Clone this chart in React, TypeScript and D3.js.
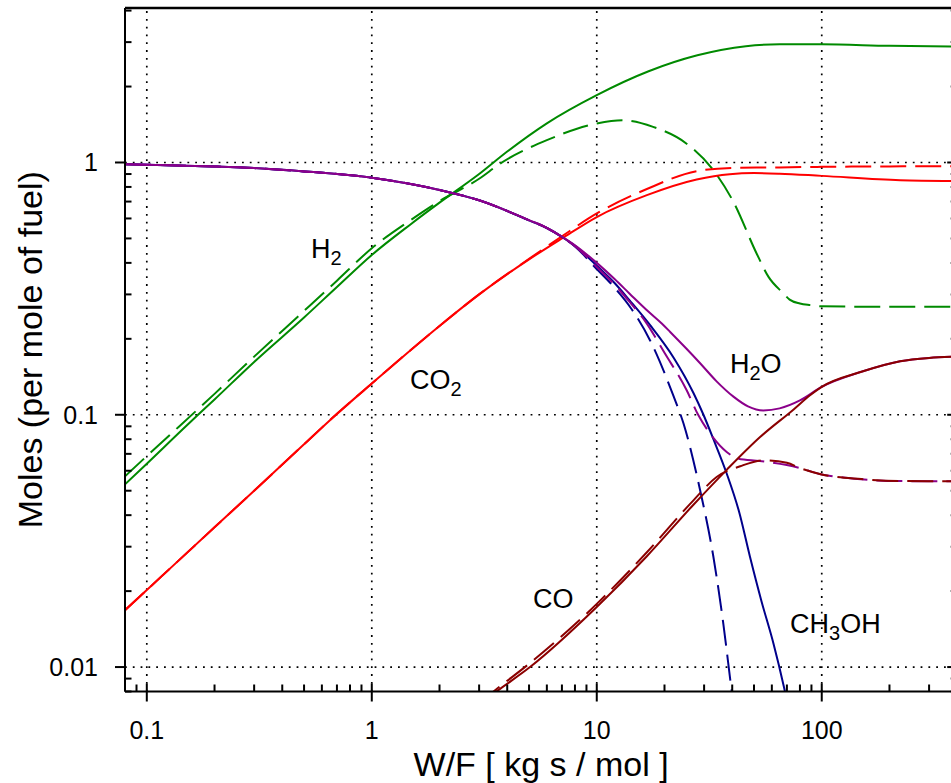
import React from 'react';
import * as d3 from 'd3';

type Pt = [number, number];

// ---- data (W/F in kg s / mol, moles per mole of fuel) ----
const h2Solid: Pt[] = [
  [0.08, 0.053], [0.1, 0.064], [0.15, 0.0905], [0.2, 0.115], [0.3, 0.162], [0.5, 0.243],
  [0.7, 0.321], [1, 0.43], [1.5, 0.572], [2, 0.693], [3, 0.9], [4, 1.105], [6, 1.43],
  [10, 1.85], [17, 2.3], [28, 2.66], [46, 2.89], [65, 2.94], [100, 2.94], [200, 2.9], [400, 2.88],
];
const h2Dashed: Pt[] = [
  [0.08, 0.057], [0.1, 0.0686], [0.2, 0.121], [0.3, 0.17], [0.5, 0.258], [0.7, 0.34],
  [1, 0.457], [1.5, 0.594], [2, 0.703], [3, 0.862], [3.72, 0.99], [6, 1.226], [10, 1.428],
  [13, 1.47], [17.8, 1.384], [25, 1.19], [33, 0.932], [40.5, 0.698], [51.4, 0.435],
  [58, 0.352], [67.5, 0.303], [72, 0.286], [80, 0.276], [89, 0.272], [100, 0.269],
  [200, 0.268], [400, 0.268],
];
const co2Solid: Pt[] = [
  [0.08, 0.0168], [0.1, 0.0202], [0.2, 0.0358], [0.3, 0.05], [0.5, 0.0764], [0.65, 0.095],
  [1, 0.133], [2, 0.225], [3, 0.3], [5, 0.413], [7, 0.5], [10, 0.608], [16.7, 0.742],
  [27.8, 0.856], [39, 0.899], [50, 0.908], [65, 0.903], [100, 0.885], [223, 0.851], [400, 0.845],
];
const co2Dashed: Pt[] = [
  [0.08, 0.0168], [0.1, 0.0202], [0.2, 0.0358], [0.3, 0.05], [0.5, 0.0764], [0.65, 0.095],
  [1, 0.133], [2, 0.225], [3, 0.3], [5, 0.415], [7, 0.51], [10, 0.628], [16.7, 0.785],
  [28, 0.925], [40.5, 0.952], [65, 0.956], [100, 0.961], [200, 0.965], [400, 0.967],
];
const ch3ohSolid: Pt[] = [
  [0.08, 0.984], [0.1, 0.98], [0.2, 0.964], [0.3, 0.95], [0.5, 0.922], [1, 0.87], [2, 0.778],
  [3, 0.708], [5, 0.59], [6, 0.55], [7, 0.507], [8, 0.467], [10, 0.39], [12, 0.333],
  [14, 0.284], [17.3, 0.226], [22, 0.168], [26.9, 0.122], [29.8, 0.1], [33, 0.08],
  [37.8, 0.0585], [43, 0.041], [48, 0.0273], [54, 0.0182], [61, 0.0124], [68, 0.0083], [75, 0.0055],
];
const ch3ohDashed: Pt[] = [
  [0.08, 0.984], [0.1, 0.98], [0.2, 0.964], [0.3, 0.95], [0.5, 0.922], [1, 0.87], [2, 0.778],
  [3, 0.708], [5, 0.59], [6, 0.55], [7, 0.507], [8, 0.465], [10, 0.378], [11.66, 0.328],
  [14.3, 0.262], [17.26, 0.197], [21.9, 0.119], [24.3, 0.0923], [28.8, 0.0502], [33, 0.0273],
  [36.5, 0.0149], [39.4, 0.0086], [42, 0.0055],
];
const h2oSolid: Pt[] = [
  [0.08, 0.984], [0.1, 0.98], [0.2, 0.964], [0.3, 0.95], [0.5, 0.922], [1, 0.87], [2, 0.778],
  [3, 0.708], [5, 0.591], [6, 0.551], [7, 0.508], [8, 0.47], [10, 0.4], [12, 0.345],
  [14, 0.302], [17, 0.256], [19.45, 0.23], [21.2, 0.213], [25, 0.183], [28.8, 0.16],
  [34, 0.136], [40.5, 0.118], [47, 0.108], [55, 0.104], [65, 0.106], [80, 0.114], [100, 0.129],
  [150, 0.148], [223, 0.163], [300, 0.168], [400, 0.17],
];
const h2oDashed: Pt[] = [
  [0.08, 0.984], [0.1, 0.98], [0.2, 0.964], [0.3, 0.95], [0.5, 0.922], [1, 0.87], [2, 0.778],
  [3, 0.708], [5, 0.59], [6, 0.55], [7, 0.507], [8, 0.466], [10, 0.385], [12, 0.328],
  [14, 0.28], [16.4, 0.235], [20, 0.176], [25.1, 0.125], [28.3, 0.0995], [31.9, 0.0842],
  [37.8, 0.0712], [42.6, 0.067], [53, 0.0656], [80, 0.0615], [100, 0.058], [223, 0.0546],
  [400, 0.0545],
];
const coSolid: Pt[] = [
  [3, 0.0071], [3.65, 0.0081], [5.05, 0.01], [10, 0.0173], [16.7, 0.0275], [26.9, 0.044],
  [37.8, 0.0605], [53.2, 0.0816], [75, 0.105], [88.7, 0.1195], [100, 0.129], [150, 0.148],
  [223, 0.163], [300, 0.168], [400, 0.17],
];
const coDashed: Pt[] = [
  [3, 0.0072], [3.6, 0.0082], [5, 0.0103], [10, 0.0178], [16.7, 0.0285], [26.9, 0.0458],
  [34.1, 0.0567], [43.4, 0.0625], [55, 0.066], [70, 0.0645], [80, 0.0615], [100, 0.058],
  [150, 0.0556], [223, 0.0546], [400, 0.0545],
];

const xMajor = [0.1, 1, 10, 100];
const xTickLabels = ['0.1', '1', '10', '100'];
const yMajor = [0.01, 0.1, 1];
const yTickLabels = ['0.01', '0.1', '1'];
const xDomain: [number, number] = [0.08, 400];
const yDomain: [number, number] = [0.008, 4];

const curveLabels = [
  { main: 'H', sub: '2', after: '', at: [0.537, 0.419] as Pt },
  { main: 'CO', sub: '2', after: '', at: [1.48, 0.127] as Pt },
  { main: 'H', sub: '2', after: 'O', at: [39.1, 0.1466] as Pt },
  { main: 'CO', sub: '', after: '', at: [5.21, 0.01714] as Pt },
  { main: 'CH', sub: '3', after: 'OH', at: [72.3, 0.01365] as Pt },
];

const GREEN = '#008a00';
const RED = '#ff0000';
const BLUE = '#00008b';
const PURPLE = '#8b008b';
const DARKRED = '#8b0000';

const seriesList = [
  { data: h2Solid, color: GREEN, dashed: false },
  { data: h2Dashed, color: GREEN, dashed: true },
  { data: co2Solid, color: RED, dashed: false },
  { data: co2Dashed, color: RED, dashed: true },
  { data: ch3ohSolid, color: BLUE, dashed: false },
  { data: ch3ohDashed, color: BLUE, dashed: true },
  { data: h2oSolid, color: PURPLE, dashed: false },
  { data: h2oDashed, color: PURPLE, dashed: true },
  { data: coSolid, color: DARKRED, dashed: false },
  { data: coDashed, color: DARKRED, dashed: true },
];

const FONT = "'Liberation Sans', Arial, Helvetica, sans-serif";

export default function App() {
  const W = 951;
  const H = 783;
  const left = 125;
  const right = 957.2;
  const bottom = 691.5;
  const top = 10.6;
  const frameTop = 8;

  const x = d3.scaleLog().domain(xDomain).range([left, right]);
  const y = d3.scaleLog().domain(yDomain).range([bottom, top]);
  const line = d3
    .line<Pt>()
    .x((d) => x(d[0]))
    .y((d) => y(d[1]))
    .curve(d3.curveMonotoneX);

  const isMajor = (t: number, majors: number[]) => majors.some((m) => Math.abs(t - m) / m < 1e-6);
  const xMinor = x.ticks().filter((t) => !isMajor(t, xMajor));
  const yMinor = y.ticks().filter((t) => !isMajor(t, yMajor));

  return (
    <svg
      width={W}
      height={H}
      style={{ position: 'absolute', left: 0, top: 0, background: '#fff' }}
      fontFamily={FONT}
    >
      <defs>
        <clipPath id="plotClip">
          <rect x={left} y={frameTop} width={right - left} height={bottom - frameTop} />
        </clipPath>
      </defs>
      <rect x={0} y={0} width={W} height={H} fill="#fff" />

      {/* grid */}
      <g stroke="#000" strokeWidth={1.7} strokeDasharray="1.8,6" fill="none">
        {xMajor.map((t) => (
          <line key={'gx' + t} x1={x(t)} x2={x(t)} y1={bottom} y2={frameTop} />
        ))}
        {yMajor.map((t) => (
          <line key={'gy' + t} x1={left} x2={right} y1={y(t)} y2={y(t)} />
        ))}
      </g>

      {/* curves */}
      <g clipPath="url(#plotClip)" fill="none">
        {seriesList.map((s, i) => (
          <path
            key={i}
            d={line(s.data) || ''}
            stroke={s.color}
            strokeWidth={2}
            strokeDasharray={s.dashed ? '26,9' : undefined}
            strokeLinejoin="round"
          />
        ))}
      </g>

      {/* frame */}
      <g stroke="#000" strokeWidth={2} fill="none">
        <line x1={left} x2={left} y1={frameTop} y2={bottom} />
        <line x1={left} x2={right} y1={bottom} y2={bottom} />
        <line x1={left} x2={right} y1={frameTop} y2={frameTop} strokeWidth={2.5} />
        <line x1={right} x2={right} y1={frameTop} y2={bottom} />
      </g>

      {/* ticks */}
      <g stroke="#000" strokeWidth={2}>
        {xMajor.map((t) => (
          <line key={'tx' + t} x1={x(t)} x2={x(t)} y1={bottom - 8} y2={bottom + 10} />
        ))}
        {xMinor.map((t) => (
          <line key={'mx' + t} x1={x(t)} x2={x(t)} y1={bottom - 7} y2={bottom} />
        ))}
        {yMajor.map((t) => (
          <g key={'ty' + t}>
            <line x1={left - 10} x2={left} y1={y(t)} y2={y(t)} />
            <line x1={right - 10} x2={right} y1={y(t)} y2={y(t)} />
          </g>
        ))}
        {yMinor.map((t) => (
          <g key={'my' + t}>
            <line x1={left} x2={left + 6.5} y1={y(t)} y2={y(t)} />
            <line x1={right - 6.5} x2={right} y1={y(t)} y2={y(t)} />
          </g>
        ))}
      </g>

      {/* tick labels */}
      <g fontSize={25} fill="#000">
        {xMajor.map((t, i) => (
          <text key={'lx' + t} x={x(t)} y={739} textAnchor="middle">
            {xTickLabels[i]}
          </text>
        ))}
        {yMajor.map((t, i) => (
          <text key={'ly' + t} x={98} y={y(t)} dy="0.35em" textAnchor="end">
            {yTickLabels[i]}
          </text>
        ))}
      </g>

      {/* axis titles */}
      <text x={(left + right) / 2} y={776} fontSize={34} textAnchor="middle" fill="#000">
        W/F [ kg s / mol ]
      </text>
      <text
        transform={`translate(42, ${(frameTop + bottom) / 2}) rotate(-90)`}
        fontSize={34}
        textAnchor="middle"
        fill="#000"
      >
        Moles (per mole of fuel)
      </text>

      {/* curve labels */}
      <g fontSize={27} fill="#000">
        {curveLabels.map((l, i) => (
          <text key={'cl' + i} x={x(l.at[0])} y={y(l.at[1])}>
            {l.main}
            {l.sub ? (
              <tspan dy={7} fontSize={20}>
                {l.sub}
              </tspan>
            ) : null}
            {l.after ? (
              <tspan dy={l.sub ? -7 : 0} fontSize={27}>
                {l.after}
              </tspan>
            ) : null}
          </text>
        ))}
      </g>
    </svg>
  );
}
